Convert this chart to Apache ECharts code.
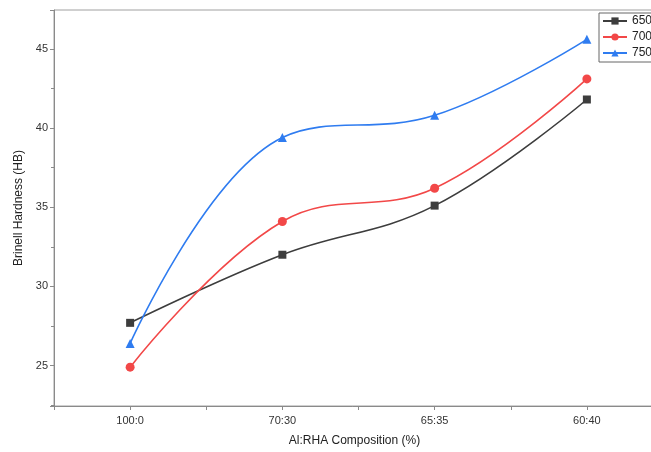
<!DOCTYPE html>
<html>
<head>
<meta charset="utf-8">
<title>Brinell Hardness</title>
<script src="https://cdn.jsdelivr.net/npm/echarts@6/dist/echarts.min.js"></script>
<style>
  html, body { margin: 0; padding: 0; background: #fff; }
  #main { width: 651px; height: 452px; }
</style>
</head>
<body>
<div id="main"></div>
<script>
// composition categories, placed at x = 1..4
var categories = ['100:0', '70:30', '65:35', '60:40'];
var seriesNames = ['650', '700', '750'];
var hb650 = [27.7, 32.0, 35.1, 41.8];
var hb700 = [24.9, 34.1, 36.2, 43.1];
var hb750 = [26.4, 39.4, 40.8, 45.6];

function pairs(vals) {
  return vals.map(function (v, i) { return [i + 1, v]; });
}

var axisColor = '#8a8a8a';
var chart = echarts.init(document.getElementById('main'));
chart.setOption({
  animation: false,
  // the plot box runs past the right edge of the picture
  grid: { left: 54, top: 10, width: 609, height: 396, outerBoundsMode: 'none',
    show: true, borderColor: '#a0a0a0', borderWidth: 1, containLabel: false },
  legend: {
    left: 599, top: 13, orient: 'vertical',
    itemWidth: 24, itemHeight: 9, itemGap: 4,
    padding: [2, 4, 3, 3],
    borderColor: '#666', borderWidth: 1,
    textStyle: { fontFamily: 'Liberation Sans', fontSize: 12, color: '#222' },
    data: seriesNames
  },
  xAxis: {
    type: 'value', min: 0.5, max: 4.5, splitNumber: 4,
    name: 'Al:RHA Composition (%)', nameLocation: 'middle', nameGap: 29,
    nameTextStyle: { fontFamily: 'Liberation Sans', fontSize: 12, color: '#222', padding: [0, 8, 0, 0] },
    axisLine: { lineStyle: { color: axisColor } },
    axisTick: { inside: false, length: 4, lineStyle: { color: axisColor } },
    minorTick: { show: true, splitNumber: 2, length: 4, lineStyle: { color: axisColor } },
    splitLine: { show: false },
    axisLabel: {
      fontFamily: 'Liberation Sans', fontSize: 11, color: '#333', margin: 9,
      formatter: function (v) { return categories[v - 1] || ''; }
    }
  },
  yAxis: {
    type: 'value', min: 22.45, max: 47.45, splitNumber: 5,
    name: 'Brinell Hardness (HB)', nameLocation: 'middle', nameGap: 28,
    nameTextStyle: { fontFamily: 'Liberation Sans', fontSize: 12, color: '#222' },
    axisLine: { show: true, lineStyle: { color: axisColor } },
    axisTick: { show: true, length: 4, lineStyle: { color: axisColor } },
    minorTick: { show: true, splitNumber: 2, length: 3, lineStyle: { color: axisColor } },
    splitLine: { show: false },
    axisLabel: { fontFamily: 'Liberation Sans', fontSize: 11, color: '#333', margin: 6,
      formatter: function (v) { return v % 5 === 0 ? v : ''; } }
  },
  series: [
    { name: seriesNames[0], type: 'line', smooth: 0.4, data: pairs(hb650),
      symbol: 'rect', symbolSize: 8, color: '#3d3d3d', lineStyle: { width: 1.6 } },
    { name: seriesNames[1], type: 'line', smooth: 0.4, data: pairs(hb700),
      symbol: 'circle', symbolSize: 9, color: '#f24848', lineStyle: { width: 1.6 } },
    { name: seriesNames[2], type: 'line', smooth: 0.4, data: pairs(hb750),
      symbol: 'triangle', symbolSize: 9, color: '#2f7cf0', lineStyle: { width: 1.6 } }
  ]
});
</script>
</body>
</html>
